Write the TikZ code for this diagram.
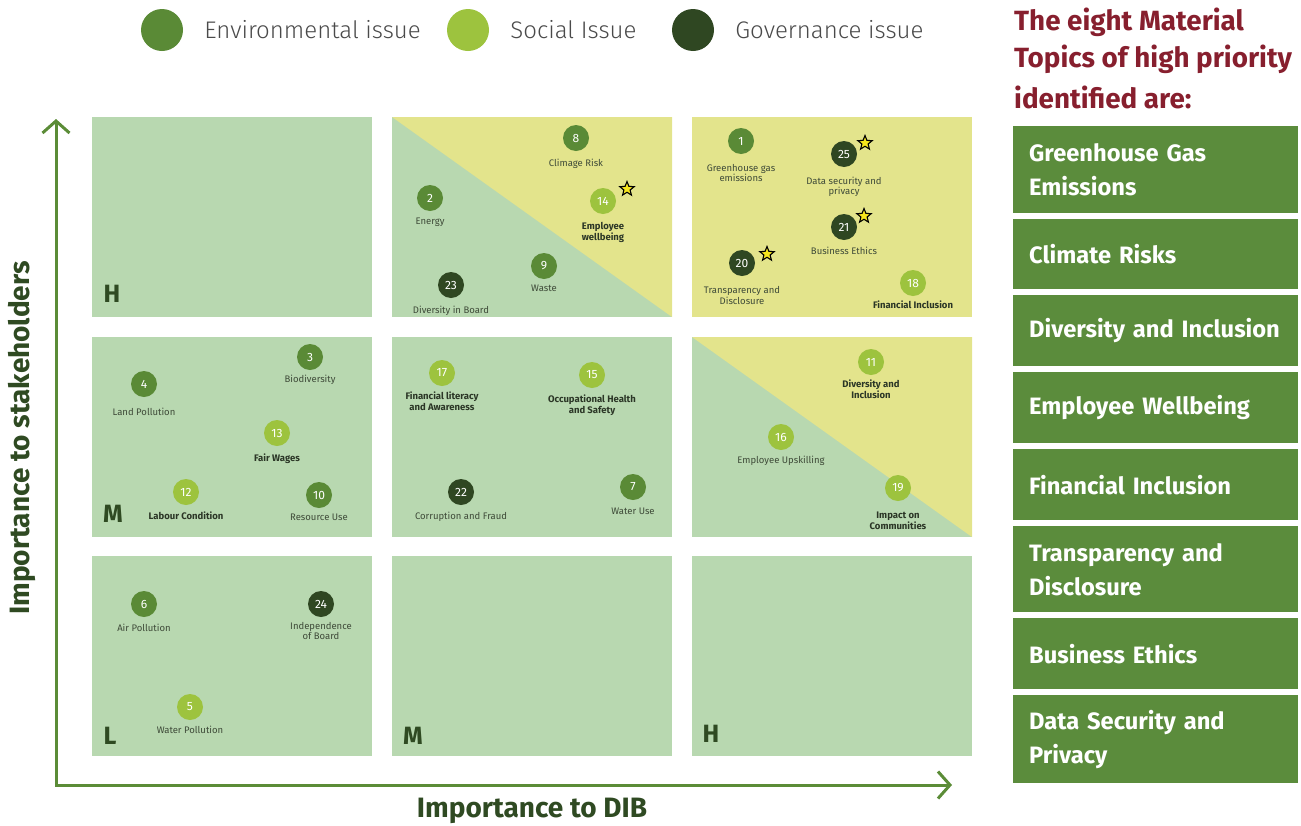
\documentclass[tikz,border=0pt]{standalone}
\usepackage{fontspec}
\setmainfont{Fira Sans}
\IfFontExistsTF{Fira Sans Light}{\newfontfamily\legendfont{Fira Sans Light}}{\newfontfamily\legendfont{Fira Sans}}
\usetikzlibrary{positioning,shapes.geometric,arrows.meta}

\definecolor{cellgreen}{HTML}{B8D8B0}
\definecolor{cellyellow}{HTML}{E3E48C}
\definecolor{envgreen}{HTML}{5A8A36}
\definecolor{socgreen}{HTML}{9DC33E}
\definecolor{govgreen}{HTML}{2F4722}
\definecolor{topicgray}{HTML}{3E4A38}
\definecolor{topicdark}{HTML}{2B3626}
\definecolor{axisgreen}{HTML}{5B8C37}
\definecolor{axisdark}{HTML}{2F4A22}
\definecolor{legendgray}{HTML}{4A4A4A}
\definecolor{headred}{HTML}{871F2E}
\definecolor{boxgreen}{HTML}{5B8C3C}
\definecolor{staryellow}{HTML}{F6E61C}

\tikzset{
	issue/.style={circle, minimum size=26pt, inner sep=0pt, text=white, font=\fontsize{12}{12}\selectfont},
	env/.style={issue, fill=envgreen},
	soc/.style={issue, fill=socgreen},
	gov/.style={issue, fill=govgreen},
	topic/.style={align=center, inner sep=0pt, text=topicgray, font=\fontsize{9.5}{10.5}\selectfont},
	keytopic/.style={topic, text=topicdark, font=\fontsize{9.5}{10.5}\selectfont\bfseries},
	priority/.style={star, star points=5, star point ratio=2.3, minimum size=15pt, inner sep=0pt, fill=staryellow, draw=black, line width=1.1pt},
	level/.style={inner sep=0pt, text=axisdark, font=\fontsize{25}{25}\selectfont\bfseries},
	legdot/.style={circle, minimum size=42pt, inner sep=0pt},
	legtext/.style={inner sep=0pt, text=legendgray, font=\legendfont\fontsize{24}{24}\selectfont},
	axis/.style={draw=axisgreen, line width=3pt, <->, >={Straight Barb[length=12pt,width=27pt]}},
	axislabel/.style={inner sep=0pt, text=axisdark, font=\fontsize{28}{28}\selectfont\bfseries},
	heading/.style={anchor=base west, inner sep=0pt, text=headred, font=\fontsize{27.8}{28}\selectfont\bfseries},
	topicbox/.style={anchor=north west, fill=boxgreen, text=white, text width=253pt, inner xsep=16pt, inner ysep=0pt, align=left, font=\fontsize{23.7}{34}\selectfont\bfseries}
}

\begin{document}
\begin{tikzpicture}[x=1pt, y=-1pt]
	\useasboundingbox (0,0) rectangle (1301,825);

	% legend
	\node[legdot, fill=envgreen] (legenv) at (162,30) {};
	\node[legtext, right=21pt of legenv] (legenvt) {Environmental issue};
	\node[legdot, fill=socgreen] (legsoc) at (468,30) {};
	\node[legtext, right=21pt of legsoc] (legsoct) {Social Issue};
	\node[legdot, fill=govgreen] (leggov) at (693,30) {};
	\node[legtext, right=21pt of leggov] (leggovt) {Governance issue};

	% the nine cells
	\fill[cellgreen] (92,117) rectangle (372,317);
	\fill[cellgreen] (392,117) rectangle (672,317);
	\fill[cellyellow] (392,117) -- (672,117) -- (672,317) -- cycle;
	\fill[cellyellow] (692,117) rectangle (972,317);
	\fill[cellgreen] (92,337) rectangle (372,537);
	\fill[cellgreen] (392,337) rectangle (672,537);
	\fill[cellgreen] (692,337) rectangle (972,537);
	\fill[cellyellow] (692,337) -- (972,337) -- (972,537) -- cycle;
	\fill[cellgreen] (92,556) rectangle (372,756);
	\fill[cellgreen] (392,556) rectangle (672,756);
	\fill[cellgreen] (692,556) rectangle (972,756);

	\node[level] (lvH) at (112,294) {H};
	\node[level] (lvM) at (113,514) {M};
	\node[level] (lvL) at (110,736) {L};
	\node[level] (lvM2) at (413,736) {M};
	\node[level] (lvH2) at (711,734) {H};

	% top row
	\node[env] (t8) at (576,138) {8};
	\node[topic, below=7.5pt of t8] (t8l) {Climage Risk};
	\node[env] (t2) at (430,198) {2};
	\node[topic, below=7pt of t2] (t2l) {Energy};
	\node[soc] (t14) at (603,201) {14};
	\node[keytopic, below=8pt of t14] (t14l) {Employee\\wellbeing};
	\node[env] (t9) at (544,266) {9};
	\node[topic, below=6pt of t9] (t9l) {Waste};
	\node[gov] (t23) at (451,285) {23};
	\node[topic, below=7.5pt of t23] (t23l) {Diversity in Board};
	\node[env] (t1) at (741,141) {1};
	\node[topic, below=9.5pt of t1] (t1l) {Greenhouse gas\\emissions};
	\node[gov] (t25) at (844,154) {25};
	\node[topic, below=9.5pt of t25] (t25l) {Data security and\\privacy};
	\node[gov] (t21) at (844,227) {21};
	\node[topic, below=7pt of t21] (t21l) {Business Ethics};
	\node[gov] (t20) at (742,263) {20};
	\node[topic, below=10pt of t20] (t20l) {Transparency and\\Disclosure};
	\node[soc] (t18) at (913,283) {18};
	\node[keytopic, below=4.5pt of t18] (t18l) {Financial Inclusion};
	\node[priority] (s14) at (627,189) {};
	\node[priority] (s25) at (865,143) {};
	\node[priority] (s21) at (864,216) {};
	\node[priority] (s20) at (767,254) {};

	% middle row
	\node[env] (t3) at (310,357) {3};
	\node[topic, below=5pt of t3] (t3l) {Biodiversity};
	\node[env] (t4) at (144,384) {4};
	\node[topic, below=10.5pt of t4] (t4l) {Land Pollution};
	\node[soc] (t13) at (277,433) {13};
	\node[keytopic, below=7pt of t13] (t13l) {Fair Wages};
	\node[soc] (t12) at (186,492) {12};
	\node[keytopic, below=6.5pt of t12] (t12l) {Labour Condition};
	\node[env] (t10) at (319,495) {10};
	\node[topic, below=6pt of t10] (t10l) {Resource Use};
	\node[soc] (t17) at (442,373) {17};
	\node[keytopic, below=5.5pt of t17] (t17l) {Financial literacy\\and Awareness};
	\node[soc] (t15) at (592,375) {15};
	\node[keytopic, below=6.5pt of t15] (t15l) {Occupational Health\\and Safety};
	\node[gov] (t22) at (461,492) {22};
	\node[topic, below=7pt of t22] (t22l) {Corruption and Fraud};
	\node[env] (t7) at (633,487) {7};
	\node[topic, below=7.5pt of t7] (t7l) {Water Use};
	\node[soc] (t11) at (871,362) {11};
	\node[keytopic, below=4.5pt of t11] (t11l) {Diversity and\\Inclusion};
	\node[soc] (t16) at (781,437) {16};
	\node[topic, below=5.5pt of t16] (t16l) {Employee Upskilling};
	\node[soc] (t19) at (898,488) {19};
	\node[keytopic, below=11pt of t19] (t19l) {Impact on\\Communities};

	% bottom row
	\node[env] (t6) at (144,604) {6};
	\node[topic, below=6.5pt of t6] (t6l) {Air Pollution};
	\node[gov] (t24) at (321,604) {24};
	\node[topic, below=4.5pt of t24] (t24l) {Independence\\of Board};
	\node[soc] (t5) at (190,707) {5};
	\node[topic, below=5.5pt of t5] (t5l) {Water Pollution};

	% axes
	\coordinate (origin) at (56,785);
	\coordinate (ytip) at (56,119);
	\coordinate (xtip) at (952,785);
	\draw[axis] (ytip) -- (origin) -- (xtip);
	\node[axislabel] (xlabel) at (532,811) {Importance to DIB};
	\node[axislabel, rotate=90] (ylabel) at (22,438) {Importance to stakeholders};

	% high priority list
	\node[heading] (head1) at (1014,30) {The eight Material};
	\node[heading] (head2) at (1014,67) {Topics of high priority};
	\node[heading] (head3) at (1014,108) {identified are:};
	\node[topicbox, minimum height=87pt] (b1) at (1013,126) {Greenhouse Gas\\Emissions};
	\node[topicbox, minimum height=70pt] (b2) at (1013,219) {Climate Risks};
	\node[topicbox, minimum height=71pt] (b3) at (1013,295) {Diversity and Inclusion};
	\node[topicbox, minimum height=71pt] (b4) at (1013,372) {Employee Wellbeing};
	\node[topicbox, minimum height=71pt] (b5) at (1013,449) {Financial Inclusion};
	\node[topicbox, minimum height=86pt] (b6) at (1013,526) {Transparency and\\Disclosure};
	\node[topicbox, minimum height=71pt] (b7) at (1013,618) {Business Ethics};
	\node[topicbox, minimum height=88pt] (b8) at (1013,695) {Data Security and\\Privacy};
\end{tikzpicture}
\end{document}
